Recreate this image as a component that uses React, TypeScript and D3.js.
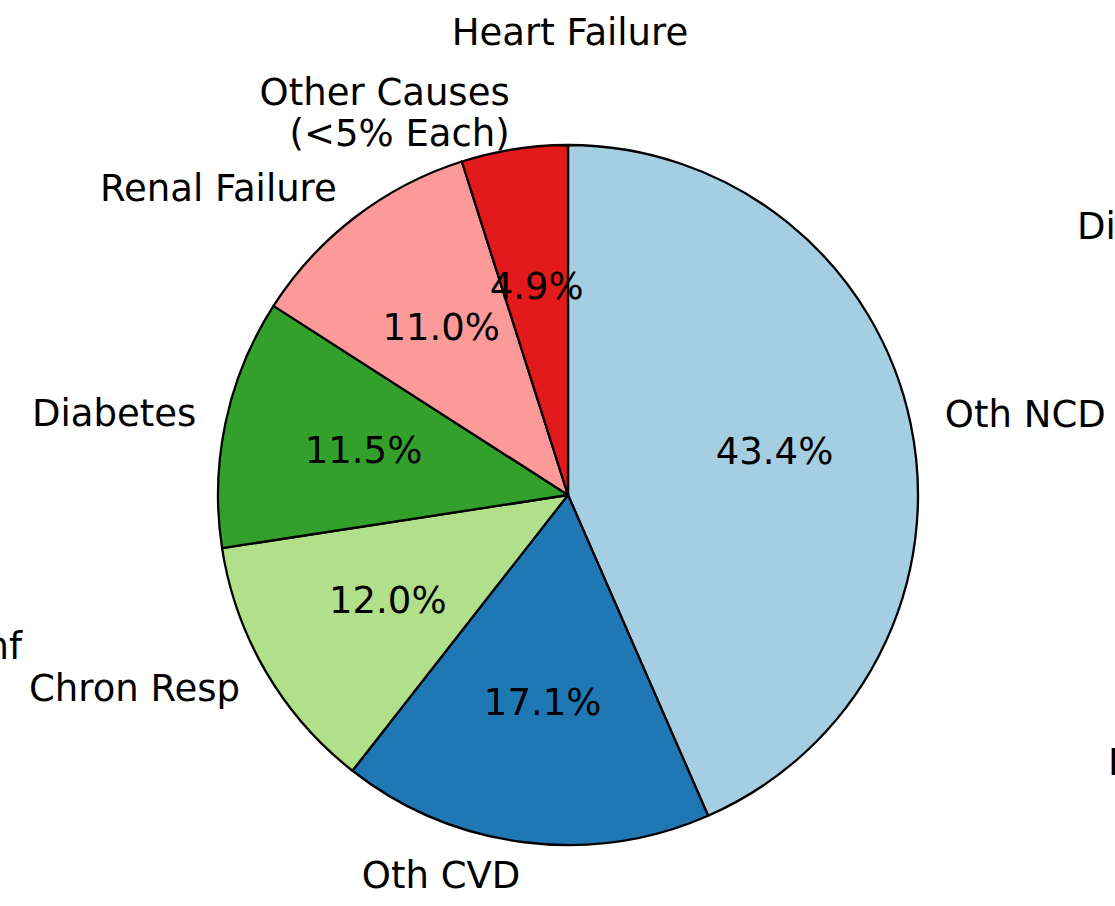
import React from 'react';
import * as d3 from 'd3';

// slices, clockwise from 12 o'clock
const causes = ['Oth NCD', 'Oth CVD', 'Chron Resp', 'Diabetes', 'Renal Failure', 'Other Causes\n(<5% Each)'];
const shares = [43.4, 17.1, 12.0, 11.5, 11.0, 4.9];
const colors = ['#a6cee3', '#1f78b4', '#b2df8a', '#33a02c', '#fb9a99', '#e31a1c'];

// labels left over around the pie (cut off by the frame, as in the source)
const strayLabels = ['Heart Failure', 'Di', 'nf', 'I'];

const W = 1115;
const H = 906;
const FONT = 'DejaVu Sans, sans-serif';

const App: React.FC = () => {
  const cx = 568;
  const cy = 495;
  const r = 350;
  const fs = 37;

  const total = d3.sum(shares);
  const pie = d3.pie<number>().sort(null).value(d => d);
  const arcs = pie(shares);
  const arc = d3.arc<d3.PieArcDatum<number>>().innerRadius(0).outerRadius(r);

  const polar = (a: number, k: number): [number, number] => [
    cx + k * r * Math.sin(a),
    cy - k * r * Math.cos(a),
  ];

  return (
    <svg width={W} height={H} style={{ position: 'absolute', left: 0, top: 0 }} fontFamily={FONT}>
      <rect width={W} height={H} fill="#fff" />
      <g transform={`translate(${cx},${cy})`}>
        {arcs.map((a, i) => (
          <path key={i} d={arc(a) || ''} fill={colors[i]} stroke="#000" strokeWidth={2.3} strokeLinejoin="round" />
        ))}
      </g>
      {arcs.map((a, i) => {
        const mid = (a.startAngle + a.endAngle) / 2;
        const [px, py] = polar(mid, 0.6);
        return (
          <text key={`p${i}`} x={px + 1} y={py} dy="0.32em" textAnchor="middle" fontSize={fs} fill="#000">
            {((shares[i] / total) * 100).toFixed(1)}%
          </text>
        );
      })}
      {arcs.map((a, i) => {
        const mid = (a.startAngle + a.endAngle) / 2;
        const [lx0, ly] = polar(mid, 1.1);
        const left = lx0 <= cx;
        const lx = left ? lx0 + 5 * Math.abs(Math.sin(mid)) : lx0;
        const lines = causes[i].split('\n');
        const lh = fs * 1.12;
        const y0 = ly - ((lines.length - 1) * lh) / 2;
        return (
          <text key={`l${i}`} x={lx} y={y0} textAnchor={left ? 'end' : 'start'} fontSize={fs} fill="#000">
            {lines.map((ln, j) => (
              <tspan key={j} x={lx} y={y0 + j * lh} dy="0.3em">{ln}</tspan>
            ))}
          </text>
        );
      })}
      <text x={cx + 2} y={32} dy="0.36em" textAnchor="middle" fontSize={fs}>{strayLabels[0]}</text>
      <text x={1077} y={226} dy="0.36em" textAnchor="start" fontSize={fs}>{strayLabels[1]}</text>
      <text x={22} y={646} dy="0.36em" textAnchor="end" fontSize={fs}>{strayLabels[2]}</text>
      <text x={1108} y={762} dy="0.36em" textAnchor="start" fontSize={fs}>{strayLabels[3]}</text>
    </svg>
  );
};

export default App;
